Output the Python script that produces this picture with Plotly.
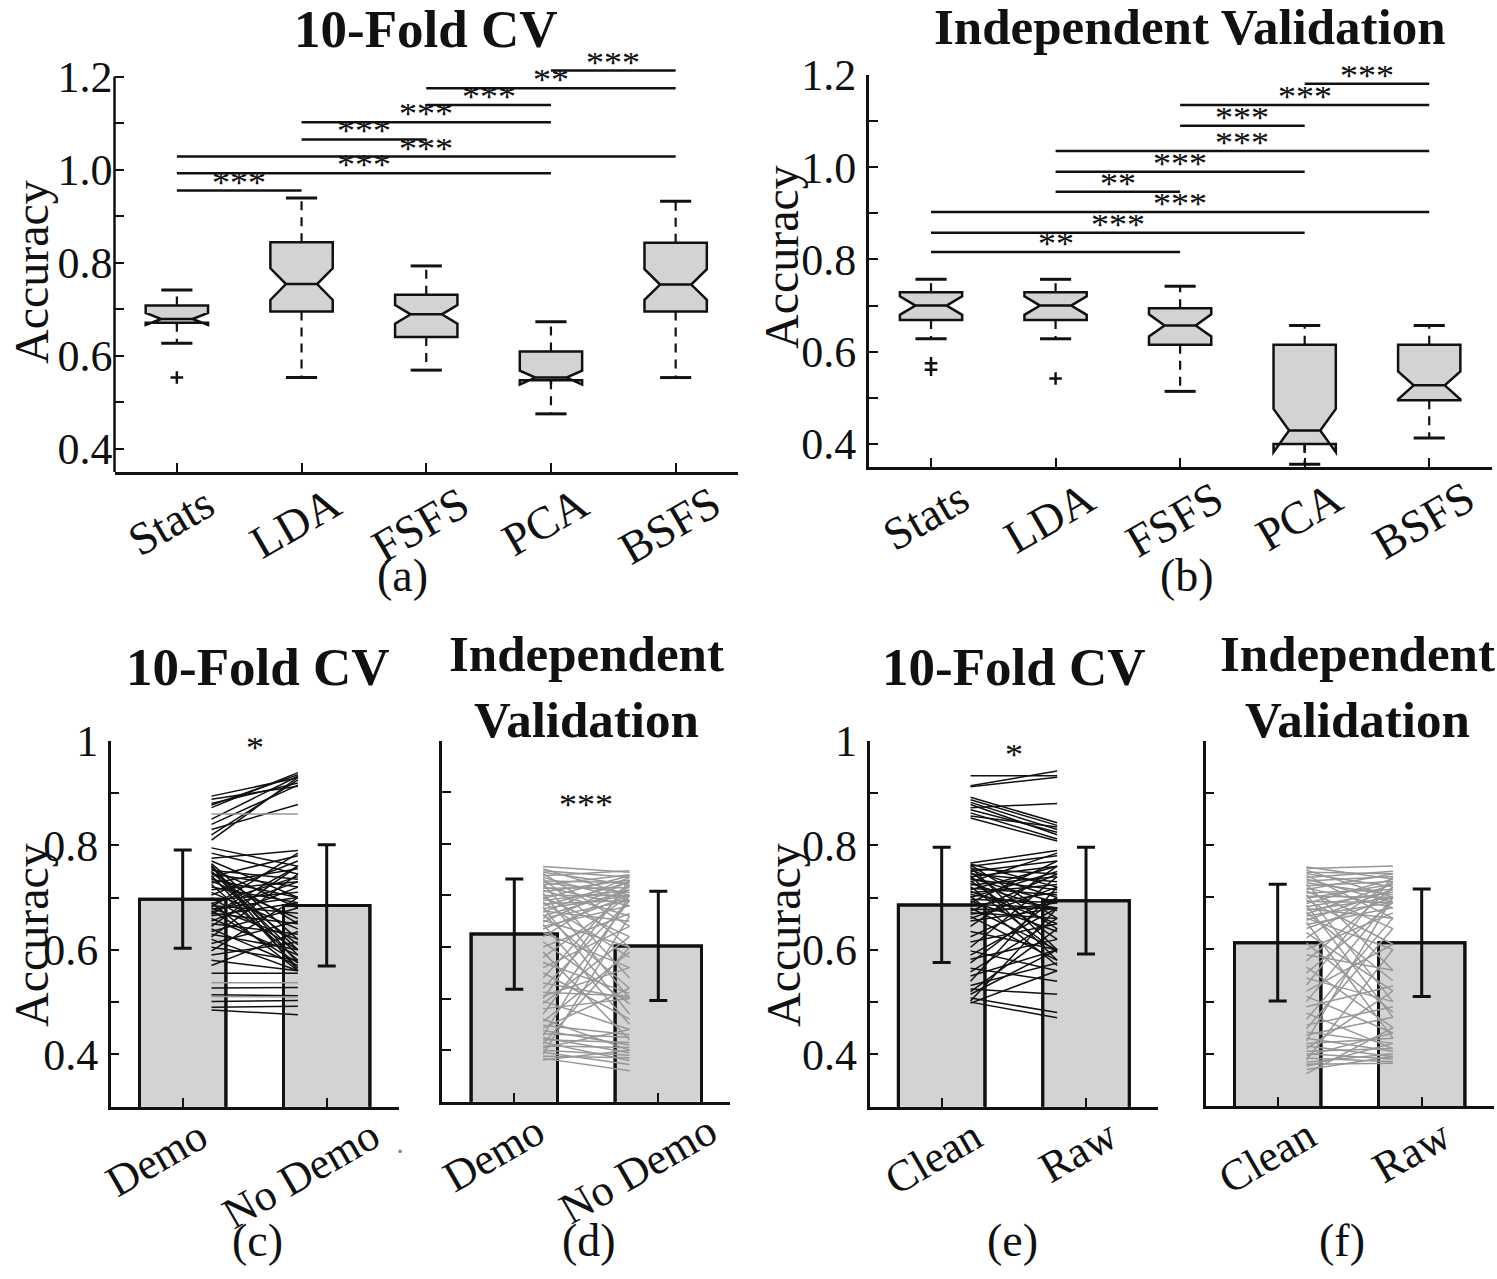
import plotly.graph_objects as go

W, H = 1497, 1279
SERIF = "Liberation Serif"
BLACK = "#111111"
FILL = "#d3d3d3"
GRAYLINE = "#979797"

# ---------------- data ----------------
methods = ["Stats", "LDA", "FSFS", "PCA", "BSFS"]

# (a) 10-fold CV
a_upper = [0.741, 0.939, 0.793, 0.673, 0.932]
a_q3 = [0.708, 0.844, 0.731, 0.609, 0.843]
a_median = [0.679, 0.754, 0.689, 0.553, 0.753]
a_q1 = [0.671, 0.695, 0.640, 0.547, 0.695]
a_lower = [0.627, 0.553, 0.569, 0.475, 0.553]
a_notch = [0.013, 0.034, 0.020, 0.015, 0.033]
a_out_method = ["Stats"]
a_out_value = [0.553]
a_sig_from = ["Stats", "Stats", "Stats", "LDA", "LDA", "FSFS", "FSFS", "PCA"]
a_sig_to = ["LDA", "PCA", "BSFS", "FSFS", "PCA", "PCA", "BSFS", "BSFS"]
a_sig_y = [0.955, 0.992, 1.028, 1.065, 1.102, 1.139, 1.175, 1.213]
a_sig_label = ["***", "***", "***", "***", "***", "***", "**", "***"]

# (b) independent validation
b_upper = [0.757, 0.757, 0.742, 0.657, 0.657]
b_q3 = [0.729, 0.729, 0.694, 0.615, 0.615]
b_median = [0.700, 0.700, 0.657, 0.429, 0.527]
b_q1 = [0.669, 0.669, 0.615, 0.400, 0.495]
b_lower = [0.628, 0.628, 0.514, 0.356, 0.413]
b_notch = [0.020, 0.020, 0.024, 0.047, 0.030]
b_out_method = ["Stats", "Stats", "LDA"]
b_out_value = [0.575, 0.561, 0.542]
b_sig_from = ["Stats", "Stats", "Stats", "LDA", "LDA", "LDA", "FSFS", "FSFS", "PCA"]
b_sig_to = ["FSFS", "PCA", "BSFS", "FSFS", "PCA", "BSFS", "PCA", "BSFS", "BSFS"]
b_sig_y = [0.816, 0.858, 0.903, 0.947, 0.990, 1.035, 1.090, 1.135, 1.181]
b_sig_label = ["**", "***", "***", "**", "***", "***", "***", "***", "***"]

box_ytick_vals = [0.4, 0.5, 0.6, 0.7, 0.8, 0.9, 1.0, 1.1, 1.2]
box_ytick_text = ["0.4", "", "0.6", "", "0.8", "", "1.0", "", "1.2"]

# bottom bar panels
demo_groups = ["Demo", "No Demo"]
clean_groups = ["Clean", "Raw"]
c_mean = [0.697, 0.685]
c_sd = [0.094, 0.116]
d_mean = [0.625, 0.602]
d_sd = [0.107, 0.106]
e_mean = [0.686, 0.694]
e_sd = [0.110, 0.102]
f_mean = [0.613, 0.613]
f_sd = [0.112, 0.103]
c_sig, d_sig, e_sig = "*", "***", "*"
c_sig_y, d_sig_y, e_sig_y = 0.971, 0.860, 0.958

bar_ytick_vals = [0.4, 0.5, 0.6, 0.7, 0.8, 0.9, 1.0]
bar_ytick_text = ["0.4", "", "0.6", "", "0.8", "", "1"]

# paired per-subject accuracies (left condition, right condition)
c_left = [0.894, 0.888, 0.880, 0.877, 0.872, 0.850, 0.840, 0.830, 0.820, 0.810,
          0.795, 0.785, 0.775, 0.770, 0.765, 0.762, 0.760, 0.758, 0.755, 0.752,
          0.750, 0.748, 0.745, 0.742, 0.740, 0.738, 0.735, 0.732, 0.728, 0.725,
          0.720, 0.715, 0.710, 0.705, 0.700, 0.695, 0.690, 0.688, 0.685, 0.682,
          0.680, 0.678, 0.675, 0.672, 0.670, 0.668, 0.665, 0.660, 0.655, 0.650,
          0.645, 0.640, 0.635, 0.630, 0.625, 0.620, 0.612, 0.605, 0.598, 0.590,
          0.580, 0.570, 0.555, 0.527, 0.514, 0.501, 0.490, 0.485]
c_right = [0.929, 0.913, 0.919, 0.935, 0.939, 0.932, 0.915, 0.878, 0.925, 0.930,
           0.760, 0.745, 0.790, 0.700, 0.620, 0.575, 0.560, 0.600, 0.680, 0.735,
           0.590, 0.650, 0.720, 0.565, 0.780, 0.610, 0.700, 0.660, 0.755, 0.580,
           0.690, 0.730, 0.640, 0.770, 0.600, 0.710, 0.560, 0.740, 0.670, 0.785,
           0.620, 0.700, 0.575, 0.730, 0.650, 0.760, 0.690, 0.590, 0.720, 0.630,
           0.760, 0.570, 0.680, 0.600, 0.745, 0.560, 0.655, 0.580, 0.700, 0.615,
           0.560, 0.635, 0.555, 0.528, 0.512, 0.503, 0.492, 0.476]
c_flat_left = [0.860, 0.537, 0.511]
c_flat_right = [0.860, 0.537, 0.510]

d_left = [0.756, 0.752, 0.748, 0.745, 0.742, 0.738, 0.735, 0.732, 0.728, 0.725,
          0.722, 0.720, 0.717, 0.714, 0.710, 0.707, 0.704, 0.700, 0.697, 0.694,
          0.690, 0.687, 0.684, 0.680, 0.677, 0.674, 0.670, 0.667, 0.663, 0.660,
          0.656, 0.652, 0.648, 0.644, 0.640, 0.635, 0.628, 0.620, 0.610, 0.600,
          0.590, 0.580, 0.570, 0.560, 0.550, 0.540, 0.530, 0.520, 0.512, 0.505,
          0.500, 0.495, 0.490, 0.480, 0.470, 0.460, 0.455, 0.448, 0.443, 0.438,
          0.432, 0.428, 0.424, 0.420, 0.415, 0.412, 0.408, 0.404, 0.400, 0.396,
          0.392, 0.388, 0.384, 0.381]
d_right = [0.745, 0.700, 0.735, 0.720, 0.640, 0.748, 0.690, 0.600, 0.725, 0.705,
           0.540, 0.740, 0.680, 0.715, 0.660, 0.730, 0.500, 0.700, 0.620, 0.738,
           0.710, 0.580, 0.690, 0.725, 0.470, 0.700, 0.650, 0.735, 0.520, 0.710,
           0.690, 0.600, 0.728, 0.450, 0.680, 0.700, 0.560, 0.720, 0.490, 0.665,
           0.420, 0.700, 0.510, 0.640, 0.460, 0.720, 0.500, 0.690, 0.505, 0.560,
           0.730, 0.440, 0.620, 0.500, 0.690, 0.400, 0.590, 0.430, 0.520, 0.410,
           0.425, 0.700, 0.395, 0.415, 0.380, 0.600, 0.405, 0.440, 0.390, 0.372,
           0.660, 0.385, 0.360, 0.400]

e_left = [0.933, 0.914, 0.912, 0.892, 0.887, 0.882, 0.878, 0.872, 0.868, 0.862,
          0.856, 0.852, 0.766, 0.764, 0.762, 0.760, 0.758, 0.755, 0.752, 0.750,
          0.748, 0.745, 0.742, 0.740, 0.737, 0.735, 0.732, 0.730, 0.727, 0.724,
          0.721, 0.718, 0.715, 0.712, 0.709, 0.706, 0.703, 0.700, 0.697, 0.694,
          0.690, 0.687, 0.684, 0.680, 0.677, 0.674, 0.671, 0.668, 0.664, 0.660,
          0.655, 0.645, 0.635, 0.625, 0.615, 0.605, 0.598, 0.590, 0.582, 0.575,
          0.565, 0.558, 0.550, 0.540, 0.532, 0.525, 0.520, 0.515, 0.508, 0.502,
          0.500, 0.498]
e_right = [0.933, 0.942, 0.930, 0.843, 0.838, 0.830, 0.820, 0.880, 0.825, 0.812,
           0.835, 0.808, 0.790, 0.720, 0.660, 0.780, 0.600, 0.745, 0.700, 0.770,
           0.640, 0.730, 0.580, 0.760, 0.690, 0.715, 0.620, 0.785, 0.675, 0.740,
           0.595, 0.705, 0.760, 0.650, 0.725, 0.680, 0.570, 0.750, 0.690, 0.635,
           0.770, 0.680, 0.710, 0.600, 0.680, 0.745, 0.660, 0.690, 0.580, 0.720,
           0.680, 0.760, 0.600, 0.700, 0.650, 0.740, 0.560, 0.680, 0.620, 0.700,
           0.540, 0.660, 0.600, 0.720, 0.575, 0.515, 0.640, 0.600, 0.480, 0.680,
           0.470, 0.560]

f_left = [0.758, 0.755, 0.752, 0.748, 0.745, 0.742, 0.738, 0.735, 0.731, 0.728,
          0.725, 0.722, 0.718, 0.715, 0.712, 0.708, 0.705, 0.702, 0.698, 0.695,
          0.692, 0.688, 0.685, 0.682, 0.678, 0.675, 0.671, 0.668, 0.664, 0.660,
          0.656, 0.652, 0.648, 0.640, 0.632, 0.622, 0.612, 0.600, 0.590, 0.578,
          0.566, 0.555, 0.545, 0.532, 0.520, 0.510, 0.500, 0.490, 0.478, 0.466,
          0.455, 0.448, 0.442, 0.436, 0.430, 0.425, 0.420, 0.415, 0.410, 0.405,
          0.400, 0.396, 0.392, 0.388, 0.384, 0.380, 0.376, 0.370, 0.362]
f_right = [0.735, 0.760, 0.700, 0.745, 0.720, 0.660, 0.750, 0.690, 0.740, 0.705,
           0.560, 0.730, 0.680, 0.745, 0.640, 0.715, 0.500, 0.700, 0.725, 0.610,
           0.690, 0.735, 0.470, 0.710, 0.660, 0.700, 0.540, 0.725, 0.690, 0.600,
           0.715, 0.430, 0.680, 0.700, 0.520, 0.730, 0.480, 0.670, 0.560, 0.720,
           0.450, 0.690, 0.500, 0.740, 0.610, 0.440, 0.700, 0.530, 0.410, 0.660,
           0.490, 0.640, 0.420, 0.470, 0.405, 0.700, 0.430, 0.395, 0.520, 0.410,
           0.390, 0.440, 0.385, 0.600, 0.400, 0.382, 0.420, 0.395, 0.450]


# ---------------- helpers ----------------
def pxx(p):
    return p / W


def pxy(p):
    return 1 - p / H


fig = go.Figure()
annotations = []
shapes = []


def axis_pair(n, xpx, ypx, xrange, yrange, ytv, ytt, xtv, yline=True):
    sx = "" if n == 1 else str(n)
    common = dict(showgrid=False, zeroline=False, ticks="inside", ticklen=9,
                  tickwidth=2, tickcolor=BLACK, linecolor=BLACK, linewidth=2.5,
                  fixedrange=True)
    fig.layout["xaxis" + sx] = dict(domain=[pxx(xpx[0]), pxx(xpx[1])], range=xrange,
                                    anchor="y" + sx, showline=True, tickvals=xtv,
                                    showticklabels=False, **common)
    fig.layout["yaxis" + sx] = dict(domain=[pxy(ypx[0]), pxy(ypx[1])], range=yrange,
                                    anchor="x" + sx, showline=yline, tickvals=ytv,
                                    ticktext=ytt, ticklabelstandoff=1,
                                    tickfont=dict(family=SERIF, size=44, color=BLACK),
                                    **common)


def xlabels(n, positions, names, standoff, size, shift):
    sx = "" if n == 1 else str(n)
    for p, nm in zip(positions, names):
        annotations.append(dict(x=p, y=0, xref="x" + sx, yref="y" + sx + " domain",
                                text=nm, showarrow=False, textangle=-30,
                                xanchor="center", yanchor="top", yshift=-standoff,
                                xshift=shift,
                                font=dict(family=SERIF, size=size, color=BLACK)))


def star_text(xref, yref, x, y, label):
    annotations.append(dict(x=x, y=y, xref=xref, yref=yref, text=label,
                            showarrow=False, yanchor="bottom", valign="middle",
                            height=20, borderpad=0, yshift=-3,
                            font=dict(family=SERIF, size=36, color=BLACK)))


def box_panel(n, upper, q3, med, q1, lower, notch, out_m, out_v,
              sig_from, sig_to, sig_y, sig_lab):
    sx = "" if n == 1 else str(n)
    pos = [i + 1 for i in range(len(methods))]
    idx = {m: i + 1 for i, m in enumerate(methods)}
    fig.add_trace(go.Box(x=pos, q1=q1, median=med, q3=q3, lowerfence=q1,
                         upperfence=q3, notched=True, notchspan=notch,
                         notchwidth=0.25, width=0.5, whiskerwidth=0,
                         fillcolor=FILL, line=dict(color=BLACK, width=2.5),
                         boxpoints=False, xaxis="x" + sx, yaxis="y" + sx,
                         hoverinfo="skip"))
    wx, wy, cx, cy = [], [], [], []
    for p, a, b, lo, hi in zip(pos, q1, q3, lower, upper):
        wx += [p, p, None, p, p, None]
        wy += [b, hi, None, a, lo, None]
        cx += [p - 0.125, p + 0.125, None, p - 0.125, p + 0.125, None]
        cy += [hi, hi, None, lo, lo, None]
    fig.add_trace(go.Scatter(x=wx, y=wy, mode="lines",
                             line=dict(color=BLACK, width=2.2, dash="9px,7px"),
                             xaxis="x" + sx, yaxis="y" + sx, hoverinfo="skip"))
    fig.add_trace(go.Scatter(x=cx, y=cy, mode="lines",
                             line=dict(color=BLACK, width=3),
                             xaxis="x" + sx, yaxis="y" + sx, hoverinfo="skip"))
    fig.add_trace(go.Scatter(x=[idx[m] for m in out_m], y=out_v, mode="markers",
                             marker=dict(symbol="cross-thin", size=9,
                                         line=dict(color=BLACK, width=2.5)),
                             xaxis="x" + sx, yaxis="y" + sx, hoverinfo="skip"))
    for f, t, yv, lab in zip(sig_from, sig_to, sig_y, sig_lab):
        shapes.append(dict(type="line", xref="x" + sx, yref="y" + sx,
                           x0=idx[f], x1=idx[t], y0=yv, y1=yv,
                           line=dict(color=BLACK, width=2.5)))
        star_text("x" + sx, "y" + sx, (idx[f] + idx[t]) / 2, yv, lab)
    xlabels(n, pos, methods, 2, 46, -6)


def bar_panel(n, groups, mean, sd, left, right, color, sig, sig_y, shift,
              flat_left=None, flat_right=None):
    sx = "" if n == 1 else str(n)
    pos = [i + 1 for i in range(len(groups))]
    fig.add_trace(go.Bar(x=pos, y=mean, width=0.6,
                         marker=dict(color=FILL, line=dict(color=BLACK, width=3)),
                         xaxis="x" + sx, yaxis="y" + sx, hoverinfo="skip"))
    lx, ly = [], []
    for l, r in zip(left, right):
        lx += [pos[0] + 0.2, pos[1] - 0.2, None]
        ly += [l, r, None]
    fig.add_trace(go.Scatter(x=lx, y=ly, mode="lines",
                             line=dict(color=color, width=1.5),
                             xaxis="x" + sx, yaxis="y" + sx, hoverinfo="skip"))
    if flat_left:
        gx, gy = [], []
        for l, r in zip(flat_left, flat_right):
            gx += [pos[0] + 0.2, pos[1] - 0.2, None]
            gy += [l, r, None]
        fig.add_trace(go.Scatter(x=gx, y=gy, mode="lines",
                                 line=dict(color=GRAYLINE, width=1.5),
                                 xaxis="x" + sx, yaxis="y" + sx, hoverinfo="skip"))
    fig.add_trace(go.Bar(x=pos, y=mean, width=0.6,
                         marker=dict(color="rgba(0,0,0,0)",
                                     line=dict(color=BLACK, width=3)),
                         error_y=dict(type="data", array=sd, color=BLACK,
                                      thickness=3, width=9),
                         xaxis="x" + sx, yaxis="y" + sx, hoverinfo="skip"))
    if sig:
        star_text("x" + sx, "y" + sx, (pos[0] + pos[1]) / 2, sig_y, sig)
    xlabels(n, pos, groups, 1, 44, shift)


# ---------------- panels ----------------
axis_pair(1, (114.5, 738), (472, 58), [0.5, 5.5], [0.35, 1.24],
          box_ytick_vals, box_ytick_text, [1, 2, 3, 4, 5], yline=False)
shapes.append(dict(type="line", xref="x domain", yref="y", x0=0, x1=0,
                   y0=0.35, y1=1.2, line=dict(color=BLACK, width=2.5)))
box_panel(1, a_upper, a_q3, a_median, a_q1, a_lower, a_notch, a_out_method,
          a_out_value, a_sig_from, a_sig_to, a_sig_y, a_sig_label)

axis_pair(2, (868.75, 1491.5), (467, 75), [0.5, 5.5], [0.35, 1.2],
          box_ytick_vals, box_ytick_text, [1, 2, 3, 4, 5])
box_panel(2, b_upper, b_q3, b_median, b_q1, b_lower, b_notch, b_out_method,
          b_out_value, b_sig_from, b_sig_to, b_sig_y, b_sig_label)

blank = [""] * len(bar_ytick_vals)
axis_pair(3, (110.7, 398.7), (1106.7, 740.7), [0.5, 2.5], [0.3, 1.0],
          bar_ytick_vals, bar_ytick_text, [1, 2])
bar_panel(3, demo_groups, c_mean, c_sd, c_left, c_right, BLACK, c_sig, c_sig_y,
          -26, c_flat_left, c_flat_right)

axis_pair(4, (442.3, 730.3), (1101.7, 740.7), [0.5, 2.5], [0.3, 1.0],
          bar_ytick_vals, blank, [1, 2])
bar_panel(4, demo_groups, d_mean, d_sd, d_left, d_right, GRAYLINE, d_sig, d_sig_y,
          -20)

axis_pair(5, (869.5, 1158.2), (1106.7, 740.7), [0.5, 2.5], [0.3, 1.0],
          bar_ytick_vals, bar_ytick_text, [1, 2])
bar_panel(5, clean_groups, e_mean, e_sd, e_left, e_right, BLACK, e_sig, e_sig_y,
          -8)

axis_pair(6, (1205.7, 1493.7), (1106, 740.7), [0.5, 2.5], [0.3, 1.0],
          bar_ytick_vals, blank, [1, 2])
bar_panel(6, clean_groups, f_mean, f_sd, f_left, f_right, GRAYLINE, None, None, -10)


# ---------------- text ----------------
def paper_text(text, x, y, size, bold=False, angle=0, color=BLACK):
    annotations.append(dict(x=pxx(x), y=pxy(y), xref="paper", yref="paper",
                            text=("<b>%s</b>" % text) if bold else text,
                            showarrow=False, textangle=angle,
                            xanchor="center", yanchor="middle",
                            font=dict(family=SERIF, size=size, color=color)))


paper_text("10-Fold CV", 426, 29, 53, bold=True)
paper_text("Independent Validation", 1190, 27, 51, bold=True)
paper_text("10-Fold CV", 258, 667, 53, bold=True)
paper_text("Independent<br>Validation", 586, 687, 51, bold=True)
paper_text("10-Fold CV", 1014, 667, 53, bold=True)
paper_text("Independent<br>Validation", 1357, 687, 51, bold=True)

for xx, yy in [(31, 272), (781, 257), (31, 935), (783, 935)]:
    paper_text("Accuracy", xx, yy, 48, angle=-90)

for lab, xx, yy in [("(a)", 402, 575), ("(b)", 1187, 575), ("(c)", 257, 1240),
                    ("(d)", 589, 1240), ("(e)", 1012, 1240), ("(f)", 1342, 1240)]:
    paper_text(lab, xx, yy, 46)

paper_text("\u00b7", 400, 1150, 30, color="#888888")

fig.update_layout(width=W, height=H,
                  margin=dict(l=0, r=0, t=0, b=0, pad=0, autoexpand=False),
                  paper_bgcolor="white", plot_bgcolor="white",
                  showlegend=False, barmode="overlay",
                  annotations=annotations, shapes=shapes,
                  font=dict(family=SERIF, color=BLACK))

fig.write_html("out.html", config={"displayModeBar": False},
               post_script="document.body.style.margin='0px';"
                           "document.body.style.overflow='hidden';")
